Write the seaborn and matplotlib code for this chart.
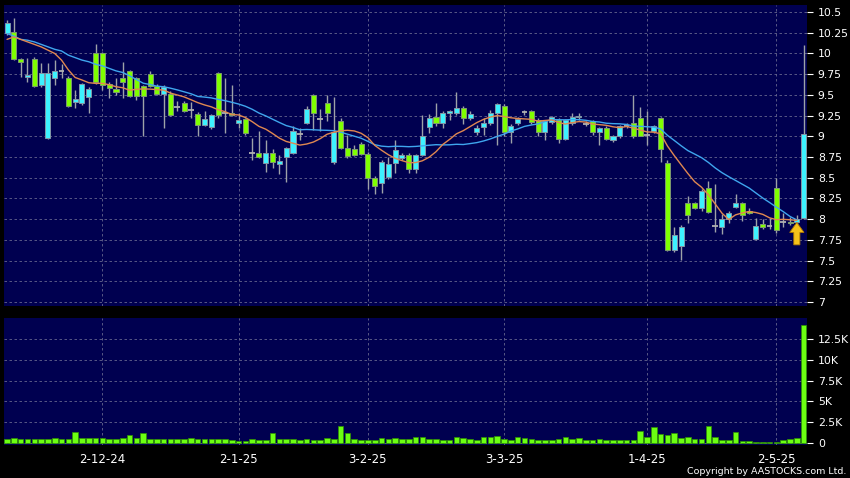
import numpy as np
import pandas as pd
import matplotlib
matplotlib.use("Agg")
import matplotlib.pyplot as plt
import seaborn as sns
from matplotlib.patches import FancyArrow

sns.set_theme(style="dark")
plt.rcParams["font.family"] = ["DejaVu Sans"]

# ---------------- data ----------------
opens = [10.25, 10.26, 9.93, 9.72, 9.93, 9.62, 8.98, 9.70, 9.79, 9.70,
         9.42, 9.40, 9.48, 10.00, 10.00, 9.63, 9.57, 9.70, 9.79, 9.70,
         9.61, 9.75, 9.61, 9.51, 9.51, 9.35, 9.40, 9.32, 9.27, 9.14,
         9.11, 9.77, 9.28, 9.28, 9.16, 9.21, 8.80, 8.80, 8.68, 8.80,
         8.67, 8.75, 8.80, 9.03, 9.16, 9.50, 9.21, 9.40, 8.69, 9.19,
         8.86, 8.85, 8.91, 8.79, 8.50, 8.44, 8.51, 8.68, 8.74, 8.78,
         8.61, 8.78, 9.11, 9.23, 9.16, 9.28, 9.28, 9.34, 9.22, 9.05,
         9.11, 9.16, 9.28, 9.37, 9.05, 9.16, 9.29, 9.30, 9.20, 9.05,
         9.17, 9.20, 8.97, 9.16, 9.23, 9.15, 9.18, 9.05, 9.10, 8.96,
         9.00, 9.12, 9.16, 9.22, 9.02, 9.06, 9.22, 8.68, 7.63, 7.68,
         8.19, 8.19, 8.13, 8.38, 7.92, 7.91, 8.00, 8.15, 8.19, 8.10,
         7.76, 7.94, 7.92, 8.38, 7.96, 7.97, 7.96, 8.02]
highs = [10.40, 10.43, 9.95, 9.95, 9.96, 9.88, 9.89, 9.92, 9.87, 9.73,
         9.56, 9.64, 9.60, 10.12, 10.02, 9.65, 9.70, 9.90, 9.80, 9.72,
         9.62, 9.79, 9.63, 9.62, 9.55, 9.43, 9.43, 9.41, 9.29, 9.30,
         9.27, 9.78, 9.70, 9.62, 9.28, 9.22, 8.98, 9.07, 8.96, 8.85,
         8.78, 8.87, 9.12, 9.10, 9.36, 9.51, 9.33, 9.50, 9.48, 9.22,
         9.02, 8.90, 8.93, 8.81, 8.52, 8.72, 8.75, 8.96, 8.80, 8.80,
         8.79, 9.26, 9.27, 9.40, 9.30, 9.32, 9.54, 9.36, 9.30, 9.14,
         9.22, 9.32, 9.40, 9.39, 9.15, 9.23, 9.32, 9.32, 9.22, 9.19,
         9.25, 9.22, 9.21, 9.28, 9.28, 9.18, 9.20, 9.11, 9.12, 9.02,
         9.14, 9.16, 9.50, 9.35, 9.30, 9.14, 9.23, 8.72, 7.90, 7.93,
         8.28, 8.21, 8.36, 8.46, 8.43, 8.06, 8.10, 8.30, 8.21, 8.13,
         8.02, 8.00, 8.02, 8.50, 8.07, 8.03, 8.05, 10.10]
lows = [10.22, 9.92, 9.72, 9.66, 9.60, 9.60, 8.97, 9.62, 9.70, 9.35,
        9.34, 9.38, 9.28, 9.63, 9.56, 9.46, 9.50, 9.46, 9.47, 9.44,
        9.00, 9.60, 9.50, 9.10, 9.25, 9.30, 9.29, 9.22, 9.00, 9.12,
        9.09, 9.22, 9.04, 9.24, 9.10, 9.02, 8.72, 8.74, 8.57, 8.62,
        8.54, 8.45, 8.79, 8.95, 9.15, 9.08, 9.06, 9.18, 8.67, 8.85,
        8.74, 8.76, 8.77, 8.36, 8.30, 8.32, 8.48, 8.56, 8.72, 8.56,
        8.56, 8.76, 9.04, 9.13, 9.10, 9.20, 9.26, 9.15, 9.20, 9.02,
        9.02, 9.14, 8.90, 9.00, 8.92, 9.14, 9.26, 9.15, 9.00, 8.95,
        9.15, 8.92, 8.95, 9.14, 9.20, 9.12, 9.02, 8.90, 8.95, 8.93,
        8.98, 9.10, 8.98, 9.00, 8.90, 9.04, 8.69, 7.62, 7.60, 7.51,
        7.95, 8.12, 8.10, 8.08, 7.84, 7.82, 7.95, 8.13, 7.98, 8.06,
        7.75, 7.88, 7.88, 7.83, 7.90, 7.93, 7.94, 8.00]
closes = [10.37, 9.93, 9.90, 9.74, 9.61, 9.76, 9.76, 9.79, 9.79, 9.37,
          9.45, 9.63, 9.57, 9.66, 9.62, 9.58, 9.53, 9.66, 9.49, 9.49,
          9.49, 9.61, 9.51, 9.60, 9.26, 9.35, 9.30, 9.32, 9.14, 9.21,
          9.26, 9.26, 9.28, 9.26, 9.20, 9.04, 8.80, 8.75, 8.80, 8.69,
          8.70, 8.86, 9.07, 9.03, 9.33, 9.28, 9.21, 9.28, 9.05, 8.86,
          8.76, 8.78, 8.79, 8.50, 8.40, 8.69, 8.67, 8.84, 8.78, 8.61,
          8.77, 9.00, 9.22, 9.16, 9.28, 9.30, 9.34, 9.22, 9.27, 9.10,
          9.16, 9.28, 9.39, 9.05, 9.13, 9.21, 9.29, 9.17, 9.05, 9.18,
          9.23, 8.97, 9.20, 9.23, 9.25, 9.15, 9.05, 9.10, 8.97, 9.00,
          9.12, 9.12, 9.00, 9.00, 9.02, 9.12, 8.85, 7.63, 7.81, 7.91,
          8.05, 8.13, 8.34, 8.09, 7.92, 8.00, 8.08, 8.19, 8.05, 8.08,
          7.92, 7.91, 7.92, 7.87, 7.96, 7.95, 8.00, 9.03]
# volume in thousands of shares
volume_k = [0.48, 0.56, 0.52, 0.52, 0.52, 0.52, 0.52, 0.56, 0.48, 0.44,
            1.32, 0.64, 0.64, 0.60, 0.64, 0.52, 0.52, 0.64, 0.92, 0.64,
            1.20, 0.52, 0.52, 0.52, 0.44, 0.44, 0.44, 0.60, 0.44, 0.48,
            0.44, 0.52, 0.44, 0.40, 0.28, 0.20, 0.52, 0.40, 0.40, 1.24,
            0.44, 0.48, 0.48, 0.40, 0.52, 0.40, 0.40, 0.56, 0.44, 2.00,
            1.20, 0.48, 0.36, 0.40, 0.36, 0.64, 0.48, 0.60, 0.44, 0.44,
            0.76, 0.76, 0.48, 0.52, 0.36, 0.40, 0.76, 0.64, 0.52, 0.40,
            0.76, 0.76, 0.88, 0.48, 0.40, 0.72, 0.64, 0.48, 0.40, 0.40,
            0.40, 0.48, 0.68, 0.48, 0.64, 0.40, 0.40, 0.52, 0.40, 0.40,
            0.40, 0.40, 0.40, 1.48, 0.68, 1.96, 1.08, 1.00, 1.24, 0.60,
            0.72, 0.52, 0.52, 2.08, 0.76, 0.32, 0.36, 1.36, 0.24, 0.24,
            0.16, 0.16, 0.12, 0.08, 0.36, 0.44, 0.64, 14.2]
# moving-average values before a full window exists
ma10_head = [10.17, 10.20, 10.17, 10.14, 10.11, 10.08, 10.04, 10.00, 9.92]
ma20_head = [10.24, 10.21, 10.17, 10.16, 10.14, 10.11, 10.08, 10.05, 10.03,
             9.98, 9.95, 9.92, 9.90, 9.87, 9.85, 9.82, 9.79, 9.77, 9.73]
date_labels = ["2-12-24", "2-1-25", "3-2-25", "3-3-25", "1-4-25", "2-5-25"]
date_index = [14, 34, 53, 73, 94, 113]
price_ticks = [7, 7.25, 7.5, 7.75, 8, 8.25, 8.5, 8.75, 9, 9.25, 9.5, 9.75,
               10, 10.25, 10.5]
vol_ticks = [0, 2.5, 5, 7.5, 10, 12.5]
vol_tick_labels = ["0", "2.5K", "5K", "7.5K", "10K", "12.5K"]
signal_index = 116

# ---------------- frame ----------------
df = pd.DataFrame({"o": opens, "h": highs, "l": lows, "c": closes,
                   "v": volume_k})
df["i"] = np.arange(len(df))
ma10 = df["c"].rolling(10).mean().to_numpy()
ma20 = df["c"].rolling(20).mean().to_numpy()
ma10[:len(ma10_head)] = ma10_head
ma20[:len(ma20_head)] = ma20_head
ma_len = signal_index + 1
ma_df = pd.DataFrame({"i": df["i"][:ma_len], "ma10": ma10[:ma_len],
                      "ma20": ma20[:ma_len]})

W, H = 850, 478
fig = plt.figure(figsize=(W / 100, H / 100), dpi=100, facecolor="black")
left, right = 4, 806.7
ax = fig.add_axes([left / W, 1 - 306 / H, (right - left) / W, (306 - 5) / H])
axv = fig.add_axes([left / W, 1 - 445 / H, (right - left) / W, (445 - 318) / H])

navy = "#000050"
grid_kw = dict(color="#66668e", linestyle=(0, (3, 3)), linewidth=0.6)
for a in (ax, axv):
    a.set_facecolor(navy)
    for s in a.spines.values():
        s.set_visible(False)

# ---------------- candles ----------------
up = df[df.c > df.o]
dn = df[df.c < df.o]
dj = df[df.c == df.o]
ax.vlines(df.i, df.l, df.h, colors="#9ea2a8", linewidth=1.0, zorder=2)
ax.bar(up.i, up.c - up.o, bottom=up.o, width=0.74, color="#3DF2FF",
       edgecolor="#8296a6", linewidth=0.7, zorder=3)
ax.bar(dn.i, dn.o - dn.c, bottom=dn.c, width=0.74, color="#7FFF00",
       edgecolor="#7d9a70", linewidth=0.7, zorder=3)
ax.hlines(dj.c, dj.i - 0.42, dj.i + 0.42, colors="#b0b0b0", linewidth=1.3,
          zorder=3)

sns.lineplot(data=ma_df, x="i", y="ma20", ax=ax, color="#3FA6EE",
             linewidth=1.0, zorder=4, sort=False)
sns.lineplot(data=ma_df, x="i", y="ma10", ax=ax, color="#E08850",
             linewidth=1.0, zorder=4, sort=False)

ax.add_patch(FancyArrow(signal_index, 7.69, 0, 0.27, width=0.9,
                        head_width=2.1, head_length=0.12,
                        length_includes_head=True, facecolor="#F6C21A",
                        edgecolor="#B07800", linewidth=0.6, zorder=6))

ax.set_xlim(-0.45, 117.45)
ax.set_ylim(6.952, 10.585)
ax.set_xticks(date_index)
ax.set_xticklabels([])
ax.tick_params(axis="x", length=0)
ax.yaxis.tick_right()
ax.set_yticks(price_ticks)
ax.set_yticklabels(["%g" % t for t in price_ticks])
ax.tick_params(axis="y", colors="white", labelcolor="white", length=4,
               width=0.8, labelsize=7.8, pad=4, direction="out")
ax.grid(True, **grid_kw)
ax.set_xlabel("")
ax.set_ylabel("")

# ---------------- volume ----------------
sns.barplot(data=df, x="i", y="v", ax=axv, color="#6CFF12", width=0.82,
            edgecolor="#2E9400", linewidth=0.5, saturation=1, zorder=3)
axv.set_xlim(-0.45, 117.45)
axv.set_ylim(-0.24, 15.02)
axv.set_xticks(date_index)
axv.set_xticklabels(date_labels)
axv.yaxis.tick_right()
axv.set_yticks(vol_ticks)
axv.set_yticklabels(vol_tick_labels)
axv.tick_params(axis="y", colors="white", labelcolor="white", length=4,
                width=0.8, labelsize=7.8, pad=4, direction="out")
axv.tick_params(axis="x", colors="white", labelcolor="white", length=3,
                width=0.8, labelsize=8.5, pad=3, direction="out")
axv.grid(True, **grid_kw)
axv.set_xlabel("")
axv.set_ylabel("")

fig.text(846 / W, 1 - 471 / H, "Copyright by AASTOCKS.com Ltd.",
         ha="right", va="center", color="white", fontsize=6.8)

fig.savefig("out.png", dpi=100, facecolor="black")
